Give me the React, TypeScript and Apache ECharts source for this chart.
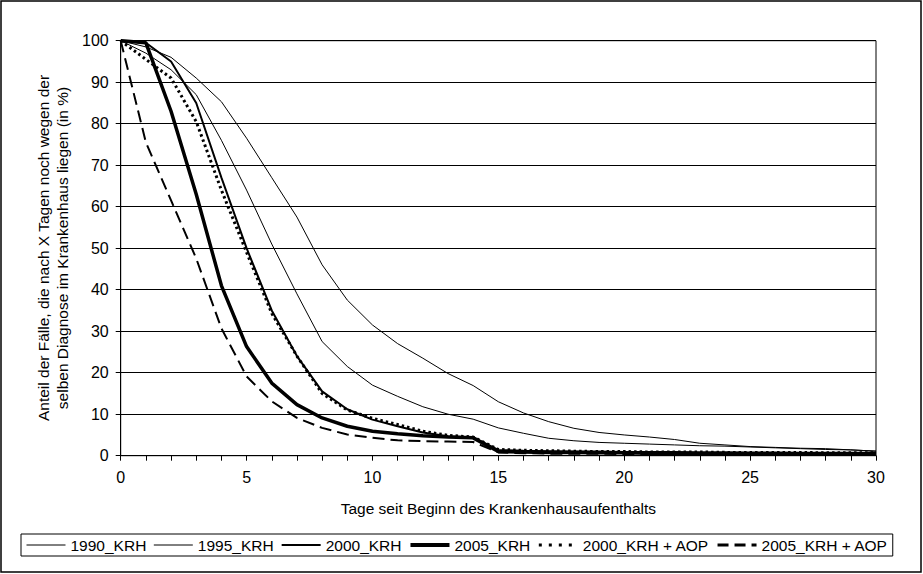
import React, { useEffect, useRef } from "react";
import * as echarts from "echarts";

const days = [0, 1, 2, 3, 4, 5, 6, 7, 8, 9, 10, 11, 12, 13, 14, 15, 16, 17, 18, 19, 20, 21, 22, 23, 24, 25, 26, 27, 28, 29, 30];
const seriesNames = ["1990_KRH", "1995_KRH", "2000_KRH", "2005_KRH", "2000_KRH + AOP", "2005_KRH + AOP"];
const krh1990 = [100, 98.5, 96, 91, 85.3, 76.5, 67, 57.5, 46, 37.5, 31.5, 27, 23.5, 19.8, 16.9, 13, 10.3, 8.2, 6.6, 5.6, 5.0, 4.5, 3.9, 3.0, 2.6, 2.2, 2.0, 1.8, 1.7, 1.4, 1.1];
const krh1995 = [100, 97, 93, 87, 76, 64, 51, 39, 27.5, 21.5, 17, 14.3, 11.8, 10, 8.8, 6.7, 5.4, 4.2, 3.6, 3.2, 3.0, 2.8, 2.6, 2.4, 2.3, 2.1, 1.9, 1.7, 1.5, 1.4, 1.1];
const krh2000 = [100, 99.5, 95, 85, 67, 50, 35, 24, 15.5, 11.2, 8.7, 7.1, 5.6, 4.7, 4.4, 1.4, 1.2, 1.1, 1.0, 1.0, 0.9, 0.9, 0.9, 0.8, 0.8, 0.8, 0.8, 0.7, 0.7, 0.7, 0.7];
const krh2005 = [100, 99.5, 83, 63, 41, 26.3, 17.5, 12.3, 9.1, 7.1, 5.9, 5.3, 4.8, 4.5, 4.3, 1.0, 0.9, 0.8, 0.8, 0.7, 0.7, 0.6, 0.6, 0.6, 0.6, 0.5, 0.5, 0.5, 0.5, 0.5, 0.5];
const krhAop2000 = [100, 95.5, 91, 80.5, 64, 49, 34.3, 24, 15, 11, 9, 7.5, 5.9, 4.9, 4.5, 1.5, 1.3, 1.2, 1.1, 1.0, 1.0, 0.9, 0.9, 0.9, 0.8, 0.8, 0.8, 0.8, 0.7, 0.7, 0.7];
const krhAop2005 = [100, 75.5, 61.5, 47.5, 30.7, 19.1, 13.1, 9.1, 6.7, 5.1, 4.3, 3.7, 3.5, 3.4, 3.3, 0.8, 0.6, 0.5, 0.5, 0.5, 0.4, 0.4, 0.4, 0.4, 0.4, 0.3, 0.3, 0.3, 0.3, 0.3, 0.3];
const xAxisTitle = "Tage seit Beginn des Krankenhausaufenthalts";
const yAxisTitle = "Anteil der Fälle, die nach X Tagen noch wegen der\nselben Diagnose im Krankenhaus liegen (in %)";

const FONT = '"Liberation Sans", Arial, sans-serif';

export default function App() {
  const ref = useRef<HTMLDivElement>(null);
  useEffect(() => {
    if (!ref.current) return;
    const chart = echarts.init(ref.current, undefined, { renderer: "svg" });
    const values = [krh1990, krh1995, krh2000, krh2005, krhAop2000, krhAop2005];
    const styles: any[] = [
      { width: 1, type: "solid" },
      { width: 1, type: "solid" },
      { width: 2, type: "solid" },
      { width: 3.5, type: "solid" },
      { width: 3, type: [2.5, 3] },
      { width: 2, type: [12, 6] },
    ];
    const legendStyles: any[] = [
      { width: 1, type: "solid" },
      { width: 1, type: "solid" },
      { width: 2, type: "solid" },
      { width: 4, type: "solid" },
      { width: 3, type: [3, 7] },
      { width: 3, type: [11, 6] },
    ];
    const series = seriesNames.map((name, i) => ({
      name,
      type: "line",
      data: days.map((d, j) => [d, values[i][j]]),
      symbol: "none",
      smooth: false,
      lineStyle: { color: "#000", ...styles[i] },
      itemStyle: { color: "#000" },
      z: 10 - i,
    }));
    chart.setOption({
      animation: false,
      backgroundColor: "#fff",
      textStyle: { fontFamily: FONT, color: "#000" },
      grid: {
        left: 120.7,
        top: 40.7,
        right: 47,
        bottom: 118.3,
        show: true,
        borderColor: "#000",
        borderWidth: 1,
        backgroundColor: "transparent",
      },
      xAxis: {
        type: "value",
        min: 0,
        max: 30,
        interval: 5,
        name: xAxisTitle,
        nameLocation: "middle",
        nameGap: 45,
        nameTextStyle: { fontSize: 15.5, color: "#000", fontFamily: FONT },
        axisLine: { show: true, lineStyle: { color: "#000", width: 1 } },
        axisTick: { show: true, length: 5, lineStyle: { color: "#000" } },
        minorTick: { show: true, splitNumber: 5, length: 5, lineStyle: { color: "#000" } },
        axisLabel: { fontSize: 16, color: "#000", margin: 14, fontFamily: FONT },
        splitLine: { show: false },
      },
      yAxis: {
        type: "value",
        min: 0,
        max: 100,
        interval: 10,
        axisLine: { show: true, lineStyle: { color: "#000", width: 1 } },
        axisTick: { show: true, length: 5, lineStyle: { color: "#000" } },
        axisLabel: { fontSize: 16, color: "#000", margin: 12, fontFamily: FONT },
        splitLine: { show: true, lineStyle: { color: "#000", width: 1 } },
      },
      legend: {
        left: 21,
        top: 534,
        padding: [3, 5],
        itemGap: 7,
        itemWidth: 39,
        itemHeight: 14,
        borderColor: "#000",
        borderWidth: 1,
        itemStyle: { opacity: 0 },
        textStyle: { fontSize: 15.5, color: "#000", fontFamily: FONT, lineHeight: 15 },
        data: seriesNames.map((name, i) => ({
          name,
          lineStyle: { color: "#000", ...legendStyles[i] },
        })),
      },
      graphic: [
        {
          type: "rect",
          silent: true,
          shape: { x: 1, y: 1, width: 920, height: 571 },
          style: { fill: "none", stroke: "#000", lineWidth: 1.5 },
        },
        {
          type: "text",
          x: 52.5,
          y: 248,
          rotation: Math.PI / 2,
          style: {
            text: yAxisTitle,
            font: `15.5px ${FONT}`,
            fill: "#000",
            textAlign: "center",
            textVerticalAlign: "middle",
            lineHeight: 19,
          },
        },
      ],
      series,
    });
    return () => chart.dispose();
  }, []);
  return <div ref={ref} style={{ position: "fixed", left: 0, top: 0, width: 923, height: 574 }} />;
}
